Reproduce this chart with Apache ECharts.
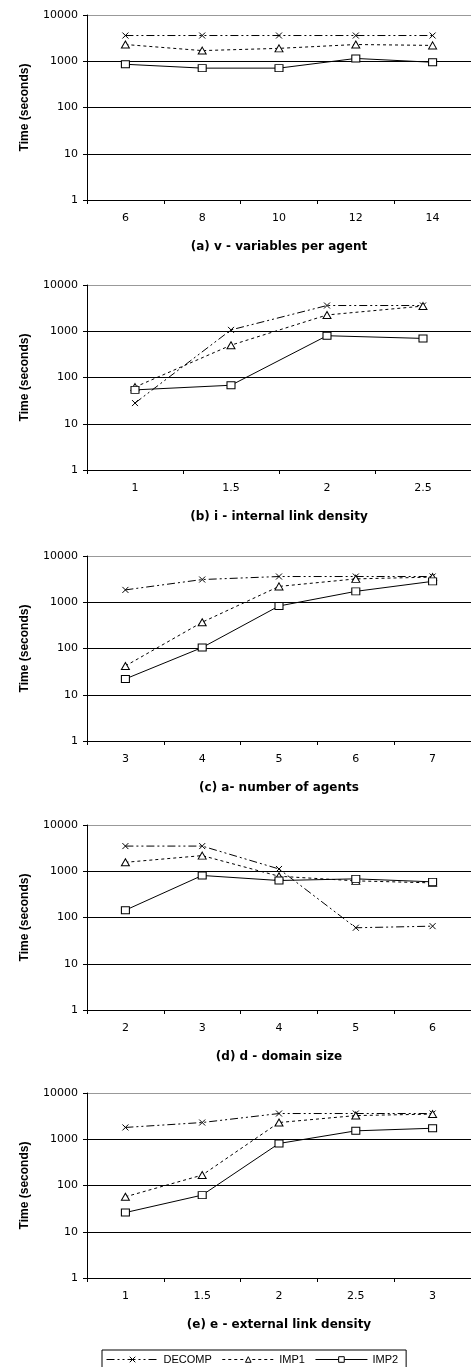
<!DOCTYPE html>
<html>
<head>
<meta charset="utf-8">
<script src="https://cdn.jsdelivr.net/npm/echarts@6/dist/echarts.min.js"></script>
<style>html,body{margin:0;padding:0;background:#fff;}#c{width:471px;height:1367px;}</style>
</head>
<body>
<div id="c"></div>
<script>
// ---- data ----
var yTicks = [1, 10, 100, 1000, 10000];
var seriesNames = ['DECOMP', 'IMP1', 'IMP2'];

var titleA = '(a) v - variables per agent';
var catsA = ['6', '8', '10', '12', '14'];
var decompA = [3600, 3600, 3600, 3600, 3600];
var imp1A = [2300, 1700, 1900, 2300, 2200];
var imp2A = [860, 710, 710, 1150, 950];

var titleB = '(b) i - internal link density';
var catsB = ['1', '1.5', '2', '2.5'];
var decompB = [28, 1070, 3600, 3600];
var imp1B = [62, 500, 2250, 3500];
var imp2B = [54, 68, 800, 700];

var titleC = '(c) a- number of agents';
var catsC = ['3', '4', '5', '6', '7'];
var decompC = [1850, 3100, 3600, 3600, 3600];
var imp1C = [42, 370, 2200, 3200, 3500];
var imp2C = [22, 105, 830, 1720, 2830];

var titleD = '(d) d - domain size';
var catsD = ['2', '3', '4', '5', '6'];
var decompD = [3500, 3500, 1120, 60, 65];
var imp1D = [1560, 2180, 780, 620, 560];
var imp2D = [144, 810, 630, 685, 590];

var titleE = '(e) e - external link density';
var catsE = ['1', '1.5', '2', '2.5', '3'];
var decompE = [1800, 2300, 3600, 3600, 3600];
var imp1E = [57, 168, 2300, 3250, 3500];
var imp2E = [26, 62, 810, 1520, 1730];

// ---- build ----
var panels = [
  {title: titleA, cats: catsA, d: [decompA, imp1A, imp2A]},
  {title: titleB, cats: catsB, d: [decompB, imp1B, imp2B]},
  {title: titleC, cats: catsC, d: [decompC, imp1C, imp2C]},
  {title: titleD, cats: catsD, d: [decompD, imp1D, imp2D]},
  {title: titleE, cats: catsE, d: [decompE, imp1E, imp2E]}
];
var tops = [15, 285, 556, 825, 1093];
var plotH = 185;

var styles = [
  {symbol: 'path://M0,0L10,10M10,0L0,10', size: [6, 6], dash: [8, 3, 2, 3, 2, 3], fill: 'none'},
  {symbol: 'triangle', size: [8, 7], dash: [3, 3], fill: '#fff'},
  {symbol: 'rect', size: [8, 7], dash: 'solid', fill: '#fff'}
];

var grids = [], xAxes = [], yAxes = [], series = [];
panels.forEach(function (p, i) {
  grids.push({left: 87, right: 0, top: tops[i], height: plotH, containLabel: false});
  xAxes.push({
    type: 'category', gridIndex: i, data: p.cats, boundaryGap: true,
    name: p.title, nameLocation: 'middle', nameGap: 41,
    nameTextStyle: {fontFamily: 'DejaVu Sans', fontWeight: 'bold', fontSize: 12, color: '#000'},
    axisLine: {show: true, lineStyle: {color: '#000', width: 1}},
    axisTick: {show: true, inside: false, length: 4, alignWithLabel: false, lineStyle: {color: '#000'}},
    axisLabel: {fontFamily: 'DejaVu Sans', fontSize: 11, color: '#000', margin: 13},
    splitLine: {show: false}
  });
  yAxes.push({
    type: 'log', logBase: 10, gridIndex: i, min: yTicks[0], max: yTicks[yTicks.length - 1],
    name: 'Time (seconds)', nameLocation: 'middle', nameGap: 56, nameRotate: 90,
    nameTextStyle: {fontFamily: 'Liberation Sans', fontWeight: 'bold', fontSize: 12, color: '#000'},
    axisLine: {show: true, lineStyle: {color: '#000', width: 1}},
    axisTick: {show: true, inside: false, length: 4, lineStyle: {color: '#000'}},
    axisLabel: {fontFamily: 'DejaVu Sans', fontSize: 11, color: '#000', margin: 9,
      formatter: function (v) { return String(Math.round(v)); }},
    splitLine: {show: true, lineStyle: {color: ['#000', '#000', '#000', '#000', '#999'], width: 1}},
    minorTick: {show: false}
  });
  p.d.forEach(function (vals, k) {
    var s = styles[k];
    series.push({
      name: seriesNames[k], type: 'line', xAxisIndex: i, yAxisIndex: i,
      data: vals, symbol: s.symbol, symbolSize: s.size, showAllSymbol: true,
      animation: false, z: 3 + k,
      lineStyle: {color: '#000', width: 1, type: s.dash},
      itemStyle: {color: s.fill, borderColor: '#000', borderWidth: 1}
    });
  });
});

var chart = echarts.init(document.getElementById('c'), null, {renderer: 'canvas'});
chart.setOption({
  backgroundColor: '#fff',
  animation: false,
  grid: grids,
  xAxis: xAxes,
  yAxis: yAxes,
  legend: {
    data: seriesNames, top: 1350, left: 102,
    borderColor: '#000', borderWidth: 1, padding: [4, 8, 8, 4],
    itemWidth: 52, itemHeight: 7, itemGap: 10,
    lineStyle: {width: 1},
    itemStyle: {borderWidth: 1},
    textStyle: {fontFamily: 'Liberation Sans', fontSize: 11, color: '#000'}
  },
  series: series
});
</script>
</body>
</html>
